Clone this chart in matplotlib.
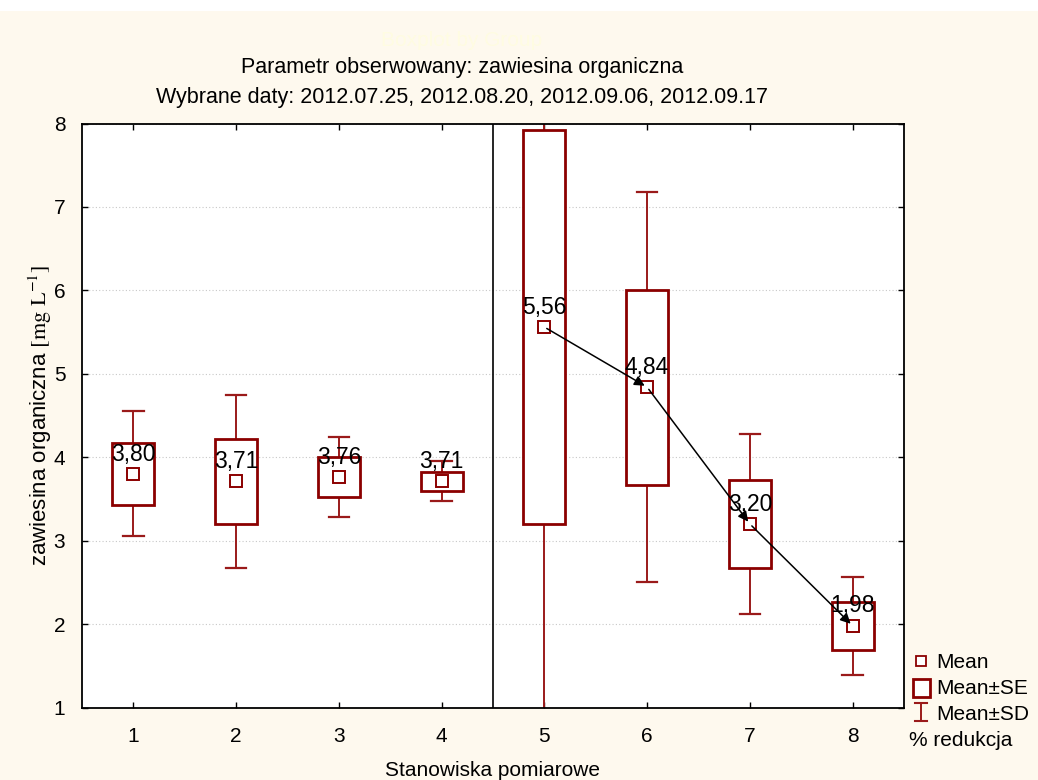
import matplotlib
matplotlib.use("Agg")
import matplotlib.pyplot as plt
from matplotlib.patches import Rectangle

plt.rcParams['font.family'] = ['Liberation Sans', 'DejaVu Sans']
plt.rcParams['mathtext.fontset'] = 'stix'

# Data
stations = [1, 2, 3, 4, 5, 6, 7, 8]
means = [3.80, 3.71, 3.76, 3.71, 5.56, 4.84, 3.20, 1.98]
se = [0.37, 0.51, 0.24, 0.11, 2.36, 1.17, 0.53, 0.29]
sd = [0.75, 1.04, 0.48, 0.24, 4.72, 2.34, 1.08, 0.59]
labels = ["3,80", "3,71", "3,76", "3,71", "5,56", "4,84", "3,20", "1,98"]
reduction_path = [5, 6, 7, 8]

RED = "#8B0000"
WRED = "#9A1A1A"
CREAM = "#FEF9EE"

fig = plt.figure(figsize=(10.38, 7.80), dpi=100)
fig.patch.set_facecolor("white")
fig.patches.append(Rectangle((0, 0), 1, 1 - 11 / 780, transform=fig.transFigure,
                             facecolor=CREAM, edgecolor="none", zorder=-10))

ax = fig.add_axes([82 / 1038, 1 - 707.5 / 780, (904 - 82) / 1038, (707.5 - 123.5) / 780])
ax.set_facecolor("white")
ax.set_xlim(0.5, 8.5)
ax.set_ylim(1, 8)

ax.yaxis.grid(True, linestyle=(0, (1, 2)), color="#c8c8c8", linewidth=0.8)
ax.set_axisbelow(True)

bw = 0.41
cap = 0.20
for x, m, s, d in zip(stations, means, se, sd):
    # whiskers (SD)
    ax.plot([x, x], [m + s, m + d], color=WRED, lw=1.4, zorder=2)
    ax.plot([x, x], [m - s, m - d], color=WRED, lw=1.4, zorder=2)
    ax.plot([x - cap / 2, x + cap / 2], [m + d, m + d], color=WRED, lw=1.6, zorder=2)
    ax.plot([x - cap / 2, x + cap / 2], [m - d, m - d], color=WRED, lw=1.6, zorder=2)
    # SE box
    ax.add_patch(Rectangle((x - bw / 2, m - s), bw, 2 * s, facecolor="white",
                           edgecolor=RED, lw=2.0, zorder=3))
    # mean marker
    ax.plot([x], [m], marker="s", ms=8, mfc="white", mec=RED, mew=1.4, zorder=5)

for x, m, lab in zip(stations, means, labels):
    ax.text(x, m + 0.1, lab, ha="center", va="bottom", fontsize=16.5, color="black", zorder=7)

# reduction arrows
for a, b in zip(reduction_path[:-1], reduction_path[1:]):
    ax.annotate("", xy=(b, means[b - 1]), xytext=(a, means[a - 1]),
                arrowprops=dict(arrowstyle="-|>", color="black", lw=1.1,
                                mutation_scale=15, shrinkA=2, shrinkB=2), zorder=6)

ax.axvline(4.5, color="black", lw=1.2, zorder=4)

ax.set_xticks(stations)
ax.set_yticks(range(1, 9))
ax.tick_params(direction="in", length=4, width=1, labelsize=15, top=True, right=True)
ax.tick_params(axis="x", pad=14)
ax.tick_params(axis="y", pad=12)
for sp in ax.spines.values():
    sp.set_linewidth(1.3)

ax.set_xlabel("Stanowiska pomiarowe", fontsize=15)
ax.xaxis.set_label_coords(0.5, -(770 - 707.5) / (707.5 - 123.5))
ax.xaxis.label.set_va("center")
ax.set_ylabel(r"zawiesina organiczna $\mathrm{[mg\ L^{-1}]}$", fontsize=16)
ax.yaxis.set_label_coords(-(82 - 40) / (904 - 82), 0.5)
ax.yaxis.label.set_va("center")

fig.text(462 / 1038, 1 - 40 / 780, "Boxplot by Group", ha="center", va="center",
         fontsize=15, color="#FFFCE2")
fig.text(462 / 1038, 1 - 68 / 780, "Parametr obserwowany: zawiesina organiczna",
         ha="center", va="center", fontsize=15.5)
fig.text(462 / 1038, 1 - 97 / 780,
         "Wybrane daty: 2012.07.25, 2012.08.20, 2012.09.06, 2012.09.17",
         ha="center", va="center", fontsize=15.5)

# legend (manual)
lx = 921 / 1038
fig.lines.append(plt.Line2D([lx], [1 - 661 / 780], marker="s", ms=7, mfc="white",
                            mec=RED, mew=1.3, transform=fig.transFigure))
fig.patches.append(Rectangle((913 / 1038, 1 - 697 / 780), 17 / 1038, 18 / 780,
                             transform=fig.transFigure, facecolor="white",
                             edgecolor=RED, lw=2))
yt, yb = 1 - 703 / 780, 1 - 721 / 780
fig.lines.append(plt.Line2D([lx, lx], [yt, yb], color=WRED, lw=1.4, transform=fig.transFigure))
for yy in (yt, yb):
    fig.lines.append(plt.Line2D([lx - 6 / 1038, lx + 6 / 1038], [yy, yy], color=WRED, lw=1.5,
                                transform=fig.transFigure))
tx = 936 / 1038
fig.text(tx, 1 - 662 / 780, "Mean", fontsize=15, va="center")
fig.text(tx, 1 - 689 / 780, "Mean±SE", fontsize=15, va="center")
fig.text(tx, 1 - 714 / 780, "Mean±SD", fontsize=15, va="center")
fig.text(909 / 1038, 1 - 740 / 780, "% redukcja", fontsize=15, va="center")

fig.savefig("out.png", dpi=100, facecolor=fig.get_facecolor())
